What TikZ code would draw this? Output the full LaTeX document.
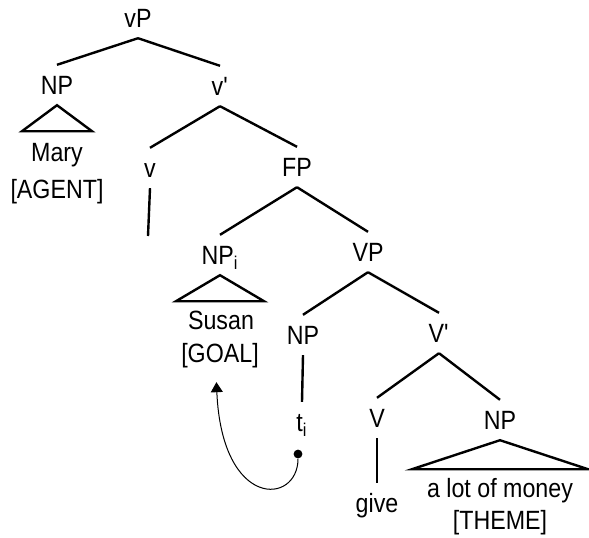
\documentclass[tikz,border=0pt]{standalone}
\usepackage{fontspec}
\setmainfont{Liberation Sans}[FakeStretch=0.88]
\usetikzlibrary{arrows.meta}
\tikzset{
    cat/.style={font=\fontsize{13.2}{15}\selectfont, inner xsep=1pt, inner ysep=5.2pt,
        text height=9.4pt, text depth=0pt},
    branch/.style={line width=1.2pt},
    trace/.style={line width=0.5pt, -{Triangle[width=6pt,length=5pt]}},
    dot/.style={circle, fill, inner sep=0pt, minimum size=4.4pt}
}
\begin{document}
\begin{tikzpicture}[x=0.5pt, y=-0.5pt]
    \useasboundingbox (0,0) rectangle (589,537);
    \node[cat] (vP) at (138,18) {vP};
    \node[cat] (npA) at (57,85) {NP};
    \node[cat] (mary) at (57,152) {Mary};
    \node[cat] (agent) at (57,189) {[AGENT]};
    \node[cat] (vbar) at (220,86) {v\textquotesingle};
    \node[cat] (v) at (150,168) {v};
    \coordinate (vend) at (148,236);
    \node[cat] (fp) at (297,167) {FP};
    \node[cat] (npI) at (220,255) {NP\textsubscript{i}};
    \node[cat] (susan) at (221,320) {Susan};
    \node[cat] (goal) at (220,353) {[GOAL]};
    \node[cat] (vp) at (368,252) {VP};
    \node[cat] (npT) at (303,335) {NP};
    \node[cat] (t) at (302,422) {t\textsubscript{i}};
    \node[dot] (dot) at (298,454) {};
    \node[cat] (vbarB) at (439,333) {V\textquotesingle};
    \node[cat] (vV) at (377,418) {V};
    \node[cat] (give) at (377,503) {give};
    \node[cat] (npM) at (500,420) {NP};
    \node[cat] (money) at (500,488) {a lot of money};
    \node[cat] (theme) at (500,520) {[THEME]};

    \draw[branch] (vP.south) -- (npA.north);
    \draw[branch] (vP.south) -- (vbar.north);
    \draw[branch] (npA.south) -- ++(-35,26) -- ++(70,0) -- cycle;
    \draw[branch] (vbar.south) -- (v.north);
    \draw[branch] (vbar.south) -- (fp.north);
    \draw[branch] (v.south) -- (vend);
    \draw[branch] (fp.south) -- (npI.north);
    \draw[branch] (fp.south) -- (vp.north);
    \draw[branch] (npI.south) -- ++(-44,26) -- ++(88,0) -- cycle;
    \draw[branch] (vp.south) -- (npT.north);
    \draw[branch] (vp.south) -- (vbarB.north);
    \draw[branch] (npT.south) -- (t.north);
    \draw[branch] (vbarB.south) -- (vV.north);
    \draw[branch] (vbarB.south) -- (npM.north);
    \draw[branch] (vV.south) -- (give.north);
    \draw[branch] (npM.south) -- ++(-88,29) -- ++(176,0) -- cycle;

    \draw[trace, shorten >=4.5pt] (dot) .. controls +(0,51) and +(6,137) .. ([xshift=-2pt]goal.south);
\end{tikzpicture}
\end{document}
